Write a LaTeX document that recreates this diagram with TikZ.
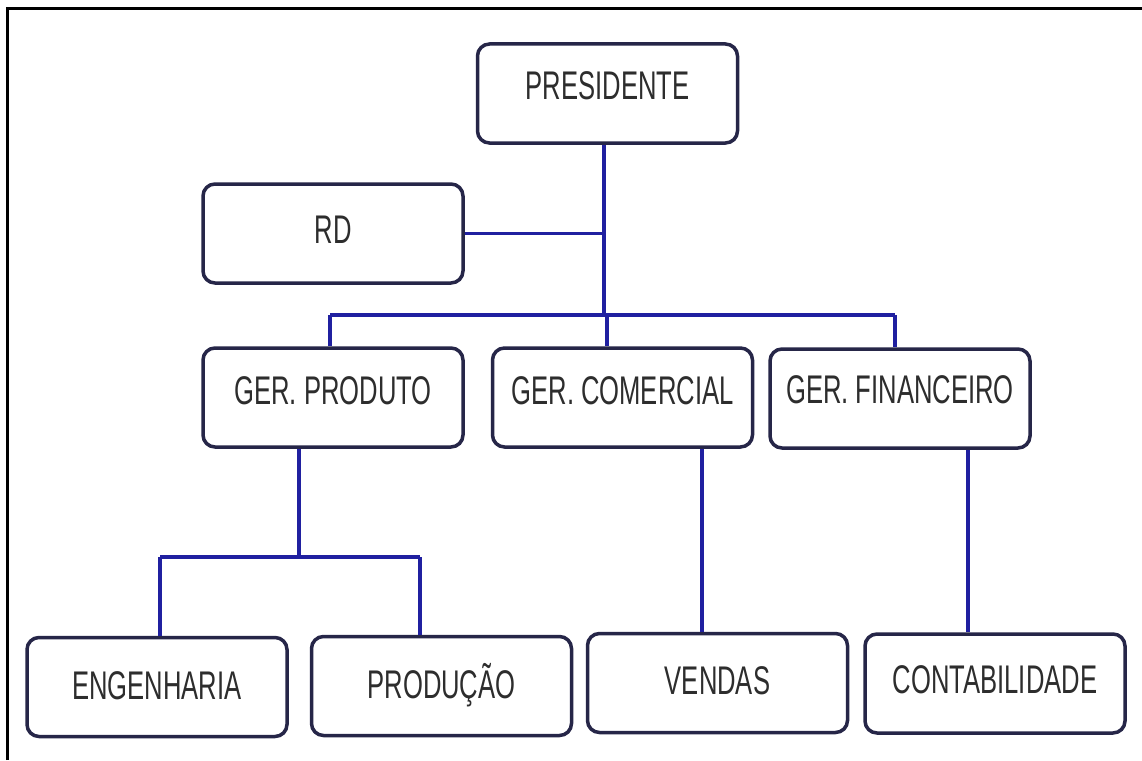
\documentclass[tikz,border=0pt]{standalone}
\usepackage{fontspec}
\newfontfamily\boxfont[FakeStretch=0.64]{Liberation Sans}
\definecolor{bordercol}{RGB}{38,38,72}
\definecolor{conncol}{RGB}{32,32,160}
\definecolor{txtcol}{RGB}{45,45,45}
\tikzset{
  box/.style={draw=bordercol, line width=3.5pt, rounded corners=12pt, fill=white,
    minimum width=260pt, minimum height=99pt, inner sep=0pt,
    font=\boxfont\fontsize{40}{48}\selectfont, text=txtcol,
    text height=28.6pt, text depth=#1},
  box/.default=8pt,
  conn/.style={draw=conncol, line width=3.2pt},
  frame/.style={draw=black, line width=3pt}
}
\begin{document}
\begin{tikzpicture}[x=1pt,y=1pt]
\useasboundingbox (0,0) rectangle (1142,-760);
\fill[white] (0,0) rectangle (1142,-760);
\draw[frame] (7,-760) -- (7,-9) -- (1142,-9);

% x positions of the connectors
\coordinate (xp) at (604,0);
\coordinate (xa) at (330,0);
\coordinate (xc) at (607,0);
\coordinate (xf) at (895,0);
\coordinate (xg) at (299,0);
\coordinate (xe) at (160,0);
\coordinate (xr) at (420,0);
\coordinate (xv) at (702,0);
\coordinate (xk) at (968,0);
\coordinate (bus) at (604,-315);
\coordinate (sub) at (299,-557);

\node[box=17pt] (pres) at (607.5,-93.5) {PRESIDENTE};
\node[box=8pt]  (rd)   at (333,-233.5) {RD};
\node[box=15pt] (gp)   at (333,-397.5) {GER. PRODUTO};
\node[box=15pt] (gc)   at (622.5,-397.5) {GER. COMERCIAL};
\node[box=18pt] (gf)   at (900,-398.5) {GER. FINANCEIRO};
\node[box=4pt]  (eng)  at (157,-687) {ENGENHARIA};
\node[box=4pt]  (prod) at (441.5,-686) {PRODUÇÃO};
\node[box=6pt]  (vend) at (717.5,-683) {VENDAS};
\node[box=9pt]  (cont) at (995,-683.5) {CONTABILIDADE};

% president trunk and bus
\draw[conn] (pres.south -| xp) -- (bus);
\draw[conn] (rd.east) -- (rd.east -| xp);
\draw[conn] (bus -| xa) -- (bus -| xf);
\draw[conn] (bus -| xa) -- (gp.north -| xa);
\draw[conn] (bus -| xc) -- (gc.north -| xc);
\draw[conn] (bus -| xf) -- (gf.north -| xf);

% product branch
\draw[conn] (gp.south -| xg) -- (sub);
\draw[conn] (sub -| xe) -- (sub -| xr);
\draw[conn] (sub -| xe) -- (eng.north -| xe);
\draw[conn] (sub -| xr) -- (prod.north -| xr);

% commercial and financial branches
\draw[conn] (gc.south -| xv) -- (vend.north -| xv);
\draw[conn] (gf.south -| xk) -- (cont.north -| xk);
\end{tikzpicture}
\end{document}
